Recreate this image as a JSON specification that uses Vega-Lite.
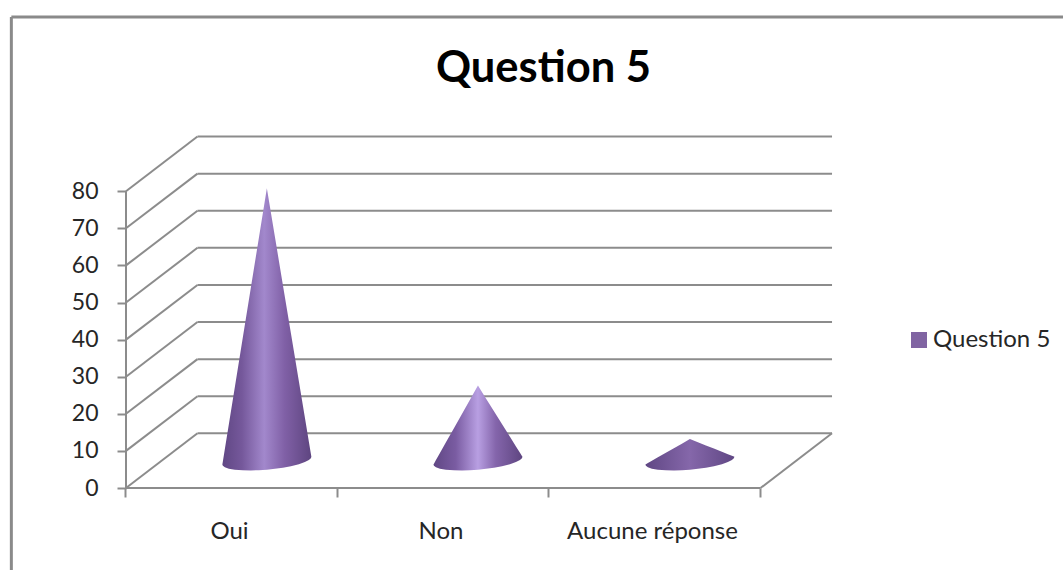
{
  "$schema": "https://vega.github.io/schema/vega-lite/v6.json",
  "width": 1063,
  "height": 570,
  "padding": 0,
  "autosize": "none",
  "background": "white",
  "config": {"view": {"stroke": null}, "font": "Lato"},
  "title": {"text": "Question 5", "font": "Lato", "fontSize": 43.5, "fontWeight": "bold", "color": "#000000", "anchor": "middle", "frame": "group", "offset": -91, "dx": 12},
  "datasets": {
    "cadre": [
      {"x": -0.542, "y": 126.96, "x2": 4.43, "y2": 126.96},
      {"x": -0.542, "y": 126.96, "x2": -0.542, "y2": -22.1}
    ],
    "axes": [
      {"x": 0, "y": 0, "x2": 0, "y2": 80},
      {"x": 0, "y": 0, "x2": 3, "y2": 0},
      {"x": 3, "y": 0, "x2": 3.338, "y2": 14.74}
    ],
    "grille": [
      {"x": 0.338, "y": 14.74, "x2": 3.338, "y2": 14.74},
      {"x": 0.338, "y": 24.74, "x2": 3.338, "y2": 24.74},
      {"x": 0.338, "y": 34.74, "x2": 3.338, "y2": 34.74},
      {"x": 0.338, "y": 44.74, "x2": 3.338, "y2": 44.74},
      {"x": 0.338, "y": 54.74, "x2": 3.338, "y2": 54.74},
      {"x": 0.338, "y": 64.74, "x2": 3.338, "y2": 64.74},
      {"x": 0.338, "y": 74.74, "x2": 3.338, "y2": 74.74},
      {"x": 0.338, "y": 84.74, "x2": 3.338, "y2": 84.74},
      {"x": 0.338, "y": 94.74, "x2": 3.338, "y2": 94.74},
      {"x": 0, "y": 0, "x2": 0.338, "y2": 14.74},
      {"x": 0, "y": 10, "x2": 0.338, "y2": 24.74},
      {"x": 0, "y": 20, "x2": 0.338, "y2": 34.74},
      {"x": 0, "y": 30, "x2": 0.338, "y2": 44.74},
      {"x": 0, "y": 40, "x2": 0.338, "y2": 54.74},
      {"x": 0, "y": 50, "x2": 0.338, "y2": 64.74},
      {"x": 0, "y": 60, "x2": 0.338, "y2": 74.74},
      {"x": 0, "y": 70, "x2": 0.338, "y2": 84.74},
      {"x": 0, "y": 80, "x2": 0.338, "y2": 94.74}
    ],
    "cones": [
      {"reponse": "Oui", "x": 0.4556, "y": 6.33, "y2": 6.33},
      {"reponse": "Oui", "x": 0.458, "y": 7.16, "y2": 5.98},
      {"reponse": "Oui", "x": 0.4674, "y": 10.51, "y2": 5.59},
      {"reponse": "Oui", "x": 0.4863, "y": 17.2, "y2": 5.22},
      {"reponse": "Oui", "x": 0.5147, "y": 27.26, "y2": 4.94},
      {"reponse": "Oui", "x": 0.5525, "y": 40.66, "y2": 4.77},
      {"reponse": "Oui", "x": 0.5903, "y": 53.99, "y2": 4.73},
      {"reponse": "Oui", "x": 0.6282, "y": 67.4, "y2": 4.8},
      {"reponse": "Oui", "x": 0.666, "y": 80.8, "y2": 4.94},
      {"reponse": "Oui", "x": 0.7038, "y": 67.77, "y2": 5.17},
      {"reponse": "Oui", "x": 0.7417, "y": 54.74, "y2": 5.48},
      {"reponse": "Oui", "x": 0.7795, "y": 41.78, "y2": 5.89},
      {"reponse": "Oui", "x": 0.8173, "y": 28.75, "y2": 6.43},
      {"reponse": "Oui", "x": 0.8457, "y": 18.98, "y2": 7.0},
      {"reponse": "Oui", "x": 0.8646, "y": 12.48, "y2": 7.55},
      {"reponse": "Oui", "x": 0.874, "y": 9.22, "y2": 8.04},
      {"reponse": "Oui", "x": 0.8764, "y": 8.41, "y2": 8.41},
      {"reponse": "Non", "x": 1.4536, "y": 6.33, "y2": 6.33},
      {"reponse": "Non", "x": 1.456, "y": 6.57, "y2": 5.98},
      {"reponse": "Non", "x": 1.4654, "y": 7.53, "y2": 5.59},
      {"reponse": "Non", "x": 1.4843, "y": 9.44, "y2": 5.22},
      {"reponse": "Non", "x": 1.5127, "y": 12.31, "y2": 4.94},
      {"reponse": "Non", "x": 1.5505, "y": 16.14, "y2": 4.77},
      {"reponse": "Non", "x": 1.5883, "y": 19.94, "y2": 4.73},
      {"reponse": "Non", "x": 1.6262, "y": 23.77, "y2": 4.8},
      {"reponse": "Non", "x": 1.664, "y": 27.6, "y2": 4.94},
      {"reponse": "Non", "x": 1.7018, "y": 24.15, "y2": 5.17},
      {"reponse": "Non", "x": 1.7397, "y": 20.69, "y2": 5.48},
      {"reponse": "Non", "x": 1.7775, "y": 17.26, "y2": 5.89},
      {"reponse": "Non", "x": 1.8153, "y": 13.8, "y2": 6.43},
      {"reponse": "Non", "x": 1.8437, "y": 11.21, "y2": 7.0},
      {"reponse": "Non", "x": 1.8626, "y": 9.49, "y2": 7.55},
      {"reponse": "Non", "x": 1.872, "y": 8.62, "y2": 8.04},
      {"reponse": "Non", "x": 1.8744, "y": 8.41, "y2": 8.41},
      {"reponse": "Aucune réponse", "x": 2.4556, "y": 6.33, "y2": 6.33},
      {"reponse": "Aucune réponse", "x": 2.458, "y": 6.41, "y2": 5.98},
      {"reponse": "Aucune réponse", "x": 2.4674, "y": 6.72, "y2": 5.59},
      {"reponse": "Aucune réponse", "x": 2.4863, "y": 7.33, "y2": 5.22},
      {"reponse": "Aucune réponse", "x": 2.5147, "y": 8.26, "y2": 4.94},
      {"reponse": "Aucune réponse", "x": 2.5525, "y": 9.5, "y2": 4.77},
      {"reponse": "Aucune réponse", "x": 2.5903, "y": 10.73, "y2": 4.73},
      {"reponse": "Aucune réponse", "x": 2.6282, "y": 11.96, "y2": 4.8},
      {"reponse": "Aucune réponse", "x": 2.666, "y": 13.2, "y2": 4.94},
      {"reponse": "Aucune réponse", "x": 2.7038, "y": 12.34, "y2": 5.17},
      {"reponse": "Aucune réponse", "x": 2.7417, "y": 11.48, "y2": 5.48},
      {"reponse": "Aucune réponse", "x": 2.7795, "y": 10.62, "y2": 5.89},
      {"reponse": "Aucune réponse", "x": 2.8173, "y": 9.76, "y2": 6.43},
      {"reponse": "Aucune réponse", "x": 2.8457, "y": 9.11, "y2": 7.0},
      {"reponse": "Aucune réponse", "x": 2.8646, "y": 8.68, "y2": 7.55},
      {"reponse": "Aucune réponse", "x": 2.874, "y": 8.46, "y2": 8.04},
      {"reponse": "Aucune réponse", "x": 2.8764, "y": 8.41, "y2": 8.41}
    ],
    "valeurs": [
      {"reponse": "Oui", "serie": "Question 5", "x": 0.666, "y": 74},
      {"reponse": "Non", "serie": "Question 5", "x": 1.664, "y": 20},
      {"reponse": "Aucune réponse", "serie": "Question 5", "x": 2.666, "y": 6}
    ]
  },
  "encoding": {
    "x": {
      "field": "x",
      "type": "quantitative",
      "scale": {"domain": [-0.5957, 4.43], "nice": false, "zero": false},
      "axis": {
        "title": null, "grid": false, "domain": false, "offset": -82,
        "values": [0, 1, 2, 3], "tickColor": "#8c8c8c", "tickWidth": 2, "tickSize": 9, "tickOffset": -1,
        "labelExpr": "datum.value == 0 ? 'Oui' : datum.value == 1 ? 'Non' : datum.value == 2 ? 'Aucune réponse' : ''",
        "labelOffset": 104, "labelPadding": 22, "labelFontSize": 24, "labelFont": "Lato", "labelColor": "#262626",
        "labelFlush": false, "labelOverlap": false, "labelBound": false
      }
    },
    "y": {
      "field": "y",
      "type": "quantitative",
      "scale": {"domain": [-22.1, 131.54], "nice": false, "zero": false},
      "axis": {
        "title": null, "grid": false, "domain": false, "offset": -126,
        "values": [0, 10, 20, 30, 40, 50, 60, 70, 80], "tickColor": "#8c8c8c", "tickWidth": 2, "tickSize": 9,
        "labelPadding": 19, "labelFontSize": 23, "labelFont": "Lato", "labelColor": "#262626",
        "labelOverlap": false, "labelBound": false, "labelFlush": false
      }
    }
  },
  "layer": [
    {
      "data": {"name": "cadre"},
      "mark": {"type": "rule", "color": "#8a8a8a", "strokeWidth": 3},
      "encoding": {"x2": {"field": "x2"}, "y2": {"field": "y2"}}
    },
    {
      "data": {"name": "grille"},
      "mark": {"type": "rule", "color": "#8c8c8c", "strokeWidth": 2},
      "encoding": {"x2": {"field": "x2"}, "y2": {"field": "y2"}}
    },
    {
      "data": {"name": "axes"},
      "mark": {"type": "rule", "color": "#8c8c8c", "strokeWidth": 2},
      "encoding": {"x2": {"field": "x2"}, "y2": {"field": "y2"}}
    },
    {
      "data": {"name": "cones"},
      "transform": [{"filter": "datum.reponse == 'Oui'"}],
      "mark": {
        "type": "area", "orient": "vertical",
        "color": {"gradient": "linear", "x1": 0, "x2": 1, "y1": 0, "y2": 0, "stops": [
          {"offset": 0, "color": "#604784"},
          {"offset": 0.22, "color": "#75589b"},
          {"offset": 0.47, "color": "#a288cc"},
          {"offset": 0.7, "color": "#8060a6"},
          {"offset": 1, "color": "#5e4580"}
        ]}
      },
      "encoding": {"y2": {"field": "y2"}}
    },
    {
      "data": {"name": "cones"},
      "transform": [{"filter": "datum.reponse == 'Non'"}],
      "mark": {
        "type": "area", "orient": "vertical",
        "color": {"gradient": "linear", "x1": 0, "x2": 1, "y1": 0, "y2": 0, "stops": [
          {"offset": 0, "color": "#604784"},
          {"offset": 0.25, "color": "#7a5ca2"},
          {"offset": 0.5, "color": "#b89fe2"},
          {"offset": 0.7, "color": "#8465ab"},
          {"offset": 1, "color": "#5e4580"}
        ]}
      },
      "encoding": {"y2": {"field": "y2"}}
    },
    {
      "data": {"name": "cones"},
      "transform": [{"filter": "datum.reponse == 'Aucune réponse'"}],
      "mark": {
        "type": "area", "orient": "vertical",
        "color": {"gradient": "linear", "x1": 0, "x2": 1, "y1": 0, "y2": 0, "stops": [
          {"offset": 0, "color": "#604784"},
          {"offset": 0.5, "color": "#8567aa"},
          {"offset": 1, "color": "#604784"}
        ]}
      },
      "encoding": {"y2": {"field": "y2"}}
    },
    {
      "data": {"name": "valeurs"},
      "mark": {"type": "point", "shape": "square", "filled": true, "opacity": 0},
      "encoding": {
        "color": {
          "field": "serie",
          "type": "nominal",
          "scale": {"domain": ["Question 5"], "range": ["#8064a2"]},
          "legend": {
            "orient": "none", "legendX": 907, "legendY": 328, "title": null,
            "symbolType": "square", "symbolSize": 256, "symbolOpacity": 1, "symbolStrokeWidth": 0,
            "labelFontSize": 24, "labelFont": "Lato", "labelColor": "#262626", "labelOffset": 2
          }
        }
      }
    }
  ]
}
